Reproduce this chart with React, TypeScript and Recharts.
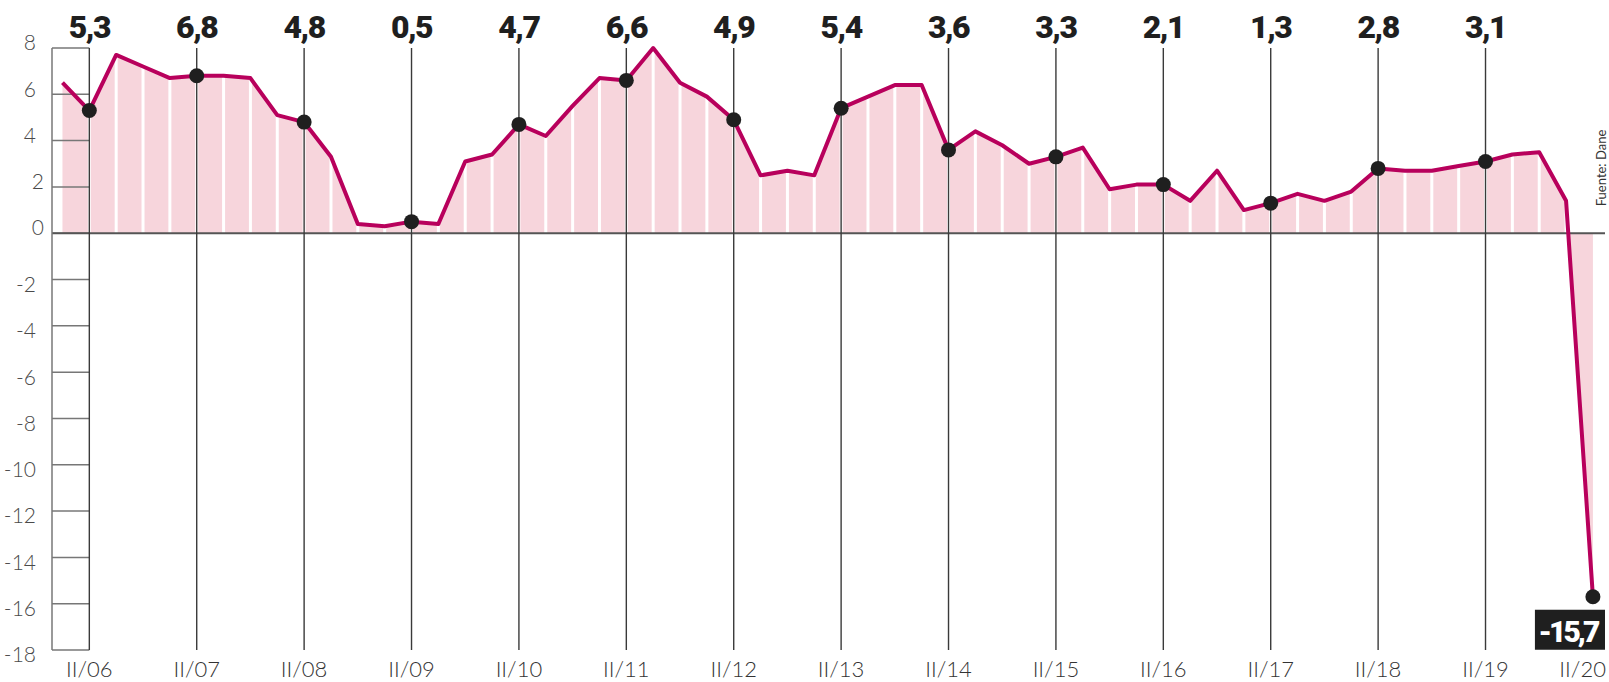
import { Area, ComposedChart, Line, ReferenceLine, XAxis, YAxis } from "recharts";

// quarterly GDP growth, I/06 .. II/20
const YEARS = ["06", "07", "08", "09", "10", "11", "12", "13", "14", "15", "16", "17", "18", "19", "20"];
const GROWTH = [
  6.5, 5.3, 7.7, 7.2,
  6.7, 6.8, 6.8, 6.7,
  5.1, 4.8, 3.3, 0.4,
  0.3, 0.5, 0.4, 3.1,
  3.4, 4.7, 4.2, 5.5,
  6.7, 6.6, 8.0, 6.5,
  5.9, 4.9, 2.5, 2.7,
  2.5, 5.4, 5.9, 6.4,
  6.4, 3.6, 4.4, 3.8,
  3.0, 3.3, 3.7, 1.9,
  2.1, 2.1, 1.4, 2.7,
  1.0, 1.3, 1.7, 1.4,
  1.8, 2.8, 2.7, 2.7,
  2.9, 3.1, 3.4, 3.5,
  1.4, -15.7,
];
const Y_TICKS = [-18, -16, -14, -12, -10, -8, -6, -4, -2, 0, 2, 4, 6, 8];

const LINE_RED = "#b8005c";
const FILL_PINK = "#f7d5dc";
const INK = "#1f1f1f";
const RULE = "#555555";
const MUTED = "#4a4a4a";
const LIGHT = "Lato, 'Open Sans', sans-serif";
const BOLD = "Roboto, 'Open Sans', sans-serif";

const X_MIN = -0.39;
const X_MAX = 57.45;

const data = GROWTH.map((v, i) => ({ i, v }));
const isQ2 = (i: number) => i % 4 === 1;
const fmt = (v: number) => v.toFixed(1).replace(".", ",");
const q2Ticks = data.filter((d) => isQ2(d.i)).map((d) => d.i);
const lastIndex = GROWTH.length - 1;

function YTick({ y, payload }: any) {
  const v = payload.value as number;
  const dy = v > 0 ? -5 : v < 0 ? 5 : -6;
  const x = v === 0 || v === 2 ? 44 : 36;
  return (
    <text x={x} y={y + dy} dy="0.35em" textAnchor="end" fill={MUTED} fontFamily={LIGHT} fontWeight={300} fontSize={21}>
      {v}
    </text>
  );
}

function XTick({ x, payload }: any) {
  const i = payload.value as number;
  const last = i === lastIndex;
  return (
    <text
      x={last ? x + 13 : x}
      y={677}
      textAnchor={last ? "end" : "middle"}
      fill="#333"
      fontFamily={LIGHT}
      fontWeight={300}
      fontSize={22}
    >
      {"II/" + YEARS[(i - 1) / 4]}
    </text>
  );
}

function Dot(props: any) {
  const { cx, cy, index, payload } = props;
  if (!isQ2(index)) return <g key={index} />;
  return (
    <g key={index}>
      <circle cx={cx} cy={cy} r={7.5} fill={INK} />
      {index === lastIndex && (
        <g>
          <rect x={cx - 58} y={cy + 13} width={80} height={40} fill={INK} />
          <text x={cx - 25} y={cy + 45} textAnchor="middle" fill="#fff" fontFamily={BOLD} fontWeight={900} fontSize={30} letterSpacing={-3}>
            {fmt(payload.v)}
          </text>
        </g>
      )}
    </g>
  );
}

export default function App() {
  return (
    <div style={{ position: "absolute", left: 0, top: 0, width: 1609, height: 682, background: "#fff" }}>
      <ComposedChart width={1609} height={682} data={data} margin={{ top: 48, right: 4, left: 0, bottom: 0 }}>
        <XAxis
          dataKey="i"
          type="number"
          domain={[X_MIN, X_MAX]}
          allowDataOverflow
          ticks={q2Ticks}
          interval={0}
          axisLine={false}
          tickLine={false}
          height={32}
          tick={<XTick />}
        />
        <YAxis
          type="number"
          domain={[-18, 8]}
          ticks={Y_TICKS}
          interval={0}
          width={52}
          axisLine={{ stroke: "#777", strokeWidth: 1.5 }}
          tickLine={false}
          tick={<YTick />}
        />
        <Area
          dataKey="v"
          type="linear"
          baseValue={0}
          fill={FILL_PINK}
          fillOpacity={1}
          stroke="none"
          isAnimationActive={false}
        />
        {data.slice(1, -1).map((d) => (
          <ReferenceLine
            key={"sep" + d.i}
            segment={[{ x: d.i, y: 0 }, { x: d.i, y: d.v }]}
            stroke="#fff"
            strokeWidth={3}
            ifOverflow="visible"
          />
        ))}
        {Y_TICKS.map((t) => (
          <ReferenceLine
            key={"tk" + t}
            segment={[{ x: X_MIN, y: t }, { x: 1, y: t }]}
            stroke="#777"
            strokeWidth={1.5}
            ifOverflow="visible"
          />
        ))}
        <ReferenceLine y={0} stroke={RULE} strokeWidth={2} />
        {q2Ticks
          .filter((i) => i !== lastIndex)
          .map((i) => (
            <ReferenceLine
              key={"yr" + i}
              x={i}
              stroke="#3a3a3a"
              strokeWidth={1.4}
              label={{
                value: fmt(GROWTH[i]),
                position: "top",
                offset: 10,
                fill: INK,
                fontFamily: BOLD,
                fontWeight: 900,
                fontSize: 32,
                letterSpacing: -1.5,
              }}
            />
          ))}
        <Line
          dataKey="v"
          type="linear"
          stroke={LINE_RED}
          strokeWidth={4}
          strokeLinejoin="round"
          dot={<Dot />}
          activeDot={false}
          isAnimationActive={false}
        />
      </ComposedChart>
      <div
        style={{
          position: "absolute",
          left: 1601,
          top: 168,
          transform: "translate(-50%, -50%) rotate(-90deg)",
          fontFamily: LIGHT,
          fontSize: 13,
          color: "#333",
          whiteSpace: "nowrap",
        }}
      >
        Fuente: Dane
      </div>
    </div>
  );
}
